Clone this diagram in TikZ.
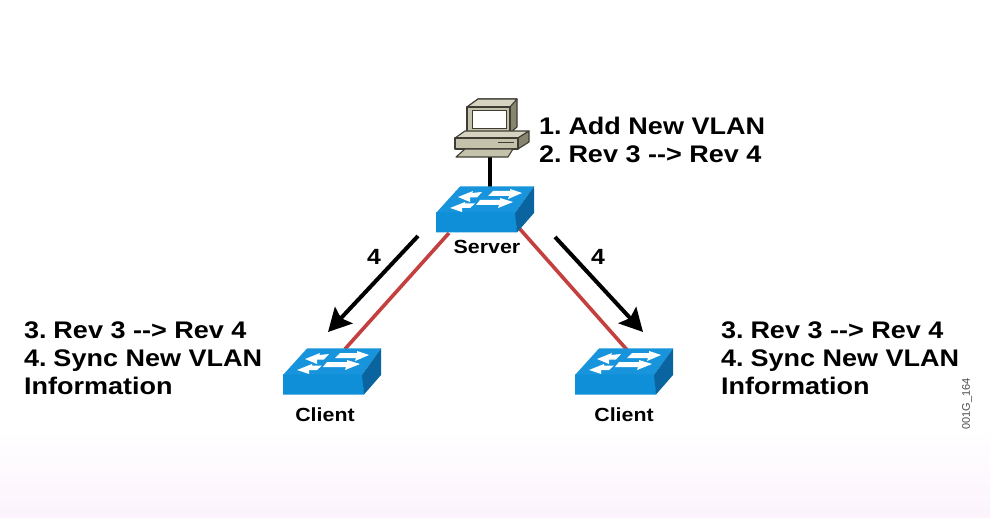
\documentclass[tikz,border=0pt]{standalone}
\usepackage{fontspec}
\setmainfont{Liberation Sans}
\newfontfamily\widefont[FakeStretch=1.125,Ligatures=NoCommon]{Liberation Sans}
\newcommand{\numgap}{\hspace{-3.2pt}}
\usetikzlibrary{arrows.meta}
\definecolor{swfront}{HTML}{0E8FD8}
\definecolor{swtop}{HTML}{1794DC}
\definecolor{swside}{HTML}{0A649F}
\definecolor{redlink}{HTML}{C4403F}
\definecolor{pcface}{HTML}{C4C2AA}
\definecolor{pctop}{HTML}{D6D4C0}
\definecolor{pcside}{HTML}{87856F}
\definecolor{pcedge}{HTML}{3E3D34}
\definecolor{pagepink}{HTML}{FCF3FC}
\tikzset{
  x=1pt,y=-1pt,
  swanchor/.style={minimum width=98pt,minimum height=46pt,inner sep=0pt,outer sep=0pt},
  swarrow/.style={draw=none,fill=white},
  pcpart/.style={draw=pcedge,line width=1.1pt,line join=round},
  maintext/.style={font=\widefont\fontsize{24}{28}\selectfont\bfseries,align=left,anchor=north west,inner sep=0pt},
  swlabel/.style={font=\widefont\fontsize{19}{22}\selectfont\bfseries,inner sep=0pt},
  flow/.style={black,line width=4pt,-{Stealth[length=23pt,width=24pt,inset=4pt]}},
  trunk/.style={redlink,line width=3.6pt},
  numlabel/.style={font=\widefont\fontsize{22}{24}\selectfont\bfseries,inner sep=0pt},
  pics/switch/.style={code={
    \fill[swtop] (-49,3) -- (-25,-23.5) -- (49,-23.5) -- (30,3) -- cycle;
    \fill[swfront] (-49,2.5) -- (31,2.5) -- (32,22.5) -- (-49,22.5) -- cycle;
    \fill[swside] (30,3) -- (49,-23.5) -- (49,3) -- (32,22.5) -- cycle;
    \fill[swarrow] (-27,-13) -- (-12,-19) -- (-13,-17) -- (-3,-18) -- (-8,-12.5) -- (-15,-12.5) -- (-15,-8) -- cycle;
    \fill[swarrow] (37,-17) -- (25,-21) -- (25,-19) -- (8,-19) -- (3,-14) -- (24,-14) -- (23,-11) -- cycle;
    \fill[swarrow] (-35,-2) -- (-20,-8) -- (-20,-6.5) -- (-10,-6.5) -- (-15,-2) -- (-23,-2) -- (-23,2) -- cycle;
    \fill[swarrow] (28,-8) -- (15,-12) -- (15,-10) -- (-5,-10) -- (-9,-5) -- (14,-5) -- (13,-2) -- cycle;
  }}
}
\begin{document}
\begin{tikzpicture}
\useasboundingbox (0,0) rectangle (990,518);
\fill[white] (0,0) rectangle (990,518);
\shade[top color=white,bottom color=pagepink] (0,430) rectangle (990,518);

% anchors of devices
\node[swanchor] (server) at (485,210) {};
\node[swanchor] (clientL) at (332,372) {};
\node[swanchor] (clientR) at (624,372) {};
\coordinate (pc) at (490,157);
\coordinate (serverTop) at (490,190);
\coordinate (trunkSL) at (449,233);
\coordinate (trunkCL) at (345,349);
\coordinate (trunkSR) at (519,228);
\coordinate (trunkCR) at (628,351);
\coordinate (fromS1) at (418,236);
\coordinate (toC1) at (328,332);
\coordinate (fromS2) at (555,237);
\coordinate (toC2) at (643,332);

% links (behind the switches)
\draw[black,line width=3.4pt] (pc) -- (serverTop);
\draw[trunk] (trunkSL) -- (trunkCL);
\draw[trunk] (trunkSR) -- (trunkCR);

% computer
\draw[pcpart,fill=pcside] (467,107) -- (478,99) -- (517,99) -- (517,127) -- (510,133) -- cycle;
\draw[pcpart,fill=pctop] (467,107) -- (478,99) -- (517,99) -- (510,107) -- cycle;
\draw[pcpart,fill=pcface] (467,107) rectangle (510,133);
\draw[draw=pcedge,line width=.8pt,fill=white] (472,110) rectangle (506,128);
\draw[pcpart,fill=pctop] (455,138) -- (465,131) -- (529,131) -- (518,138) -- cycle;
\draw[pcpart,fill=pcside] (518,138) -- (529,131) -- (529,142) -- (518,149) -- cycle;
\draw[pcpart,fill=pcface] (455,138) rectangle (518,149);
\draw[pcedge,line width=1pt] (498,143) -- (514,143);
\draw[pcpart,fill=pcface] (456,157) -- (465,149) -- (513,149) -- (508,157) -- cycle;

% switches
\pic at (server.center) {switch};
\pic at (clientL.center) {switch};
\pic at (clientR.center) {switch};

% flow arrows
\draw[flow] (fromS1) -- (toC1);
\draw[flow] (fromS2) -- (toC2);

% texts
\node[swlabel] (serverlabel) at (487,247) {Server};
\node[swlabel] (clientLlabel) at (325,415) {Client};
\node[swlabel] (clientRlabel) at (624,415) {Client};
\node[numlabel] (numL) at (374,257) {4};
\node[numlabel] (numR) at (598,257) {4};
\node[maintext] (pcnote) at (539,117) {1.\numgap{} Add New VLAN\\2.\numgap{} Rev 3 -{}-{}> Rev 4};
\node[maintext] (noteL) at (24,322) {3.\numgap{} Rev 3 -{}-{}> Rev 4\\4.\numgap{} Sync New VLAN\\Information};
\node[maintext] (noteR) at (721,322) {3.\numgap{} Rev 3 -{}-{}> Rev 4\\4.\numgap{} Sync New VLAN\\Information};
\node[rotate=90,font=\fontsize{11}{12}\selectfont,text=black!70,inner sep=0pt] (code) at (967,404) {001G\_164};
\end{tikzpicture}
\end{document}
